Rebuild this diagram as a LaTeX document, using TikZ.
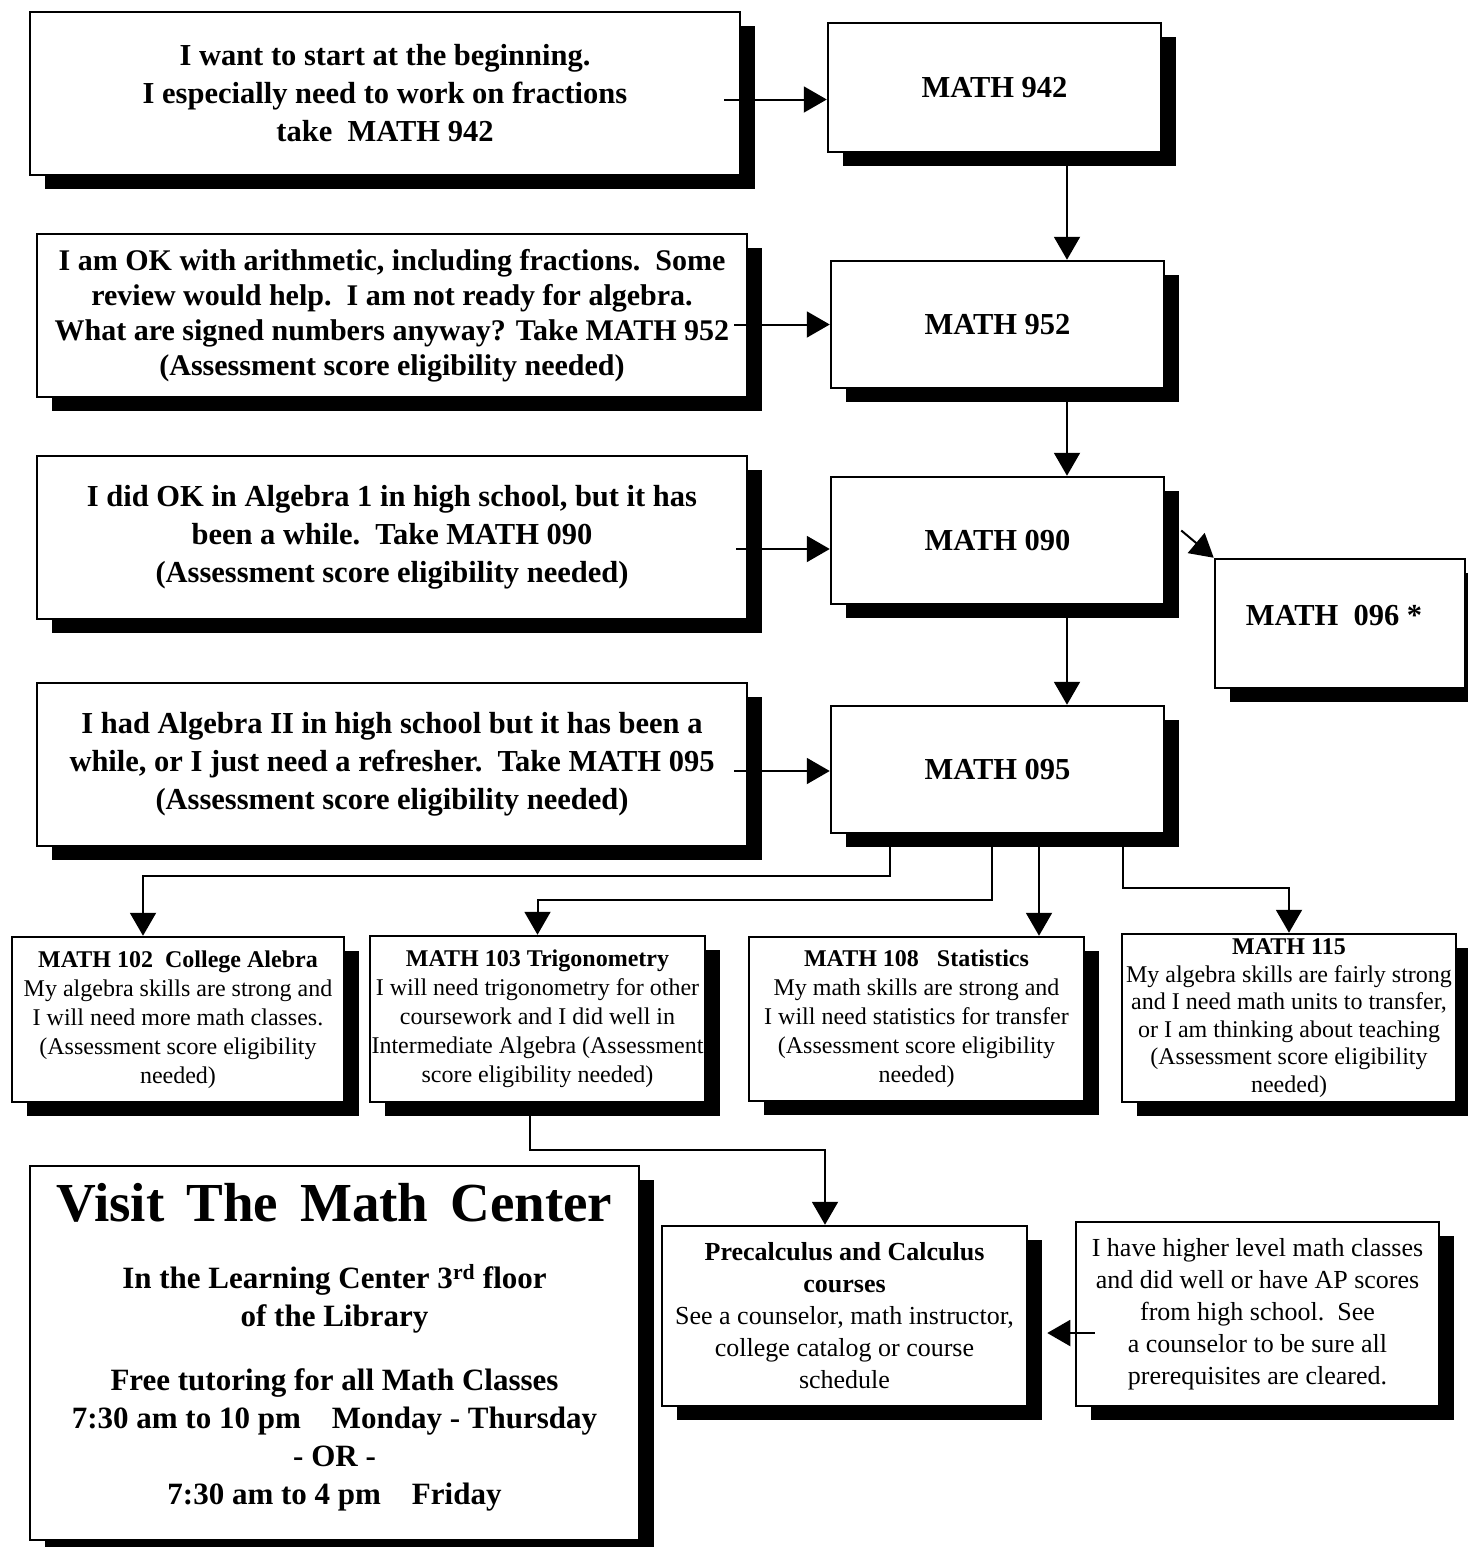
\documentclass[tikz,border=0pt]{standalone}
\usepackage{fontspec}
\setmainfont{Liberation Serif}
\usetikzlibrary{arrows.meta,shadows}

\tikzset{
  box/.style={draw, line width=2.5pt, fill=white, inner sep=0pt, align=center,
    drop shadow={shadow xshift=15pt, shadow yshift=-14pt, opacity=1, fill=black}},
  arr/.style={line width=2pt, -{Triangle[length=23pt,width=26pt]}},
  bigtxt/.style={font=\fontsize{30.5}{38}\selectfont\bfseries},
  midtxt/.style={font=\fontsize{30}{35}\selectfont\bfseries},
  smalltxt/.style={font=\fontsize{24}{29}\selectfont},
  plaintxt/.style={font=\fontsize{26}{32}\selectfont},
}

\begin{document}
\begin{tikzpicture}[x=1pt,y=-1pt]
\fill[white] (0,0) rectangle (1467,1547);
\useasboundingbox (0,0) rectangle (1467,1547);

% left column: where do I start
\node[box,bigtxt,minimum width=710,minimum height=163] (L1) at (385,93.5)
  {I want to start at the beginning.\\I especially need to work on fractions\\take\ \ MATH 942};
\node[box,midtxt,minimum width=710,minimum height=163] (L2) at (392,315.5)
  {I am OK with arithmetic, including fractions.\ \ Some\\review would help.\ \ I am not ready for algebra.\\What are signed numbers anyway? Take MATH 952\\(Assessment score eligibility needed)};
\node[box,bigtxt,minimum width=710,minimum height=163] (L3) at (392,537.5)
  {I did OK in Algebra 1 in high school, but it has\\been a while.\ \ Take MATH 090\\(Assessment score eligibility needed)};
\node[box,bigtxt,minimum width=710,minimum height=163] (L4) at (392,764.5)
  {I had Algebra II in high school but it has been a\\while, or I just need a refresher.\ \ Take MATH 095\\(Assessment score eligibility needed)};

% right column: the course chain
\node[box,bigtxt,minimum width=333,minimum height=129] (R1) at (994.5,87.5) {MATH 942};
\node[box,bigtxt,minimum width=333,minimum height=127] (R2) at (997.5,324.5) {MATH 952};
\node[box,bigtxt,minimum width=333,minimum height=127] (R3) at (997.5,540.5) {MATH 090};
\node[box,bigtxt,minimum width=333,minimum height=127] (R4) at (997.5,769.5) {MATH 095};
\node[box,bigtxt,text depth=16pt,minimum width=250,minimum height=129] (M96) at (1340,623.5) {MATH\ \ 096 *\hspace*{12pt}};

% transfer level courses
\node[box,smalltxt,minimum width=332,minimum height=165] (B1) at (178,1019.5)
  {\textbf{MATH 102\ \ College Alebra}\\My algebra skills are strong and\\I will need more math classes.\\(Assessment score eligibility\\needed)};
\node[box,smalltxt,minimum width=335,minimum height=166] (B2) at (537.5,1019)
  {\textbf{MATH 103\ Trigonometry}\\I will need trigonometry for other\\coursework and I did well in\\Intermediate Algebra (Assessment\\score eligibility needed)};
\node[box,smalltxt,minimum width=335,minimum height=164] (B3) at (916.5,1019)
  {\textbf{MATH 108\ \ \ Statistics}\\My math skills are strong and\\I will need statistics for transfer\\(Assessment score eligibility\\needed)};
\node[box,smalltxt,font=\fontsize{24}{27.5}\selectfont,minimum width=334,minimum height=168] (B4) at (1289,1018)
  {\textbf{MATH 115}\\My algebra skills are fairly strong\\and I need math units to transfer,\\or I am thinking about teaching\\(Assessment score eligibility\\needed)};

% bottom
\node[box,plaintxt,minimum width=365,minimum height=180] (P) at (844.5,1316)
  {\textbf{Precalculus and Calculus}\\\textbf{courses}\\See a counselor, math instructor,\\college catalog or course\\schedule};
\node[box,plaintxt,minimum width=363,minimum height=184] (H) at (1257.5,1314)
  {I have higher level math classes\\and did well or have AP scores\\from high school.\ \ See\\a counselor to be sure all\\prerequisites are cleared.};
\node[box,align=flush center,text width=600,minimum width=609,minimum height=374,font=\bfseries] (V) at (334.5,1353)
  {{\fontsize{55}{60}\selectfont\spaceskip=0.4em Visit The Math Center\par}
   \vspace{29pt}
   {\fontsize{31}{38}\selectfont\spaceskip=0pt In the Learning Center 3\textsuperscript{rd} floor\\of the Library\par}
   \vspace{26pt}
   {\fontsize{31}{38}\selectfont\spaceskip=0pt Free tutoring for all Math Classes\\7:30 am to 10 pm\quad Monday - Thursday\\- OR -\\7:30 am to 4 pm\quad Friday\par}
   \kern11pt};

% connectors
\coordinate (vx) at (1067,0);
\coordinate (k1) at (890,876);
\coordinate (k2) at (992,900);
\coordinate (k3) at (1039,900);
\coordinate (k4) at (1123,888);
\coordinate (k5) at (825,1150);

\draw[arr] ([xshift=-17pt,yshift=-6pt]L1.east) -- ([yshift=-12pt]R1.west);
\draw[arr] ([xshift=-14pt,yshift=-9pt]L2.east) -- (R2.west);
\draw[arr] ([xshift=-12pt,yshift=-11.5pt]L3.east) -- ([yshift=-8.5pt]R3.west);
\draw[arr] ([xshift=-14pt,yshift=-6.5pt]L4.east) -- ([yshift=-1.5pt]R4.west);

\draw[arr] (R1.south -| vx) -- (R2.north -| vx);
\draw[arr] (R2.south -| vx) -- (R3.north -| vx);
\draw[arr] (R3.south -| vx) -- (R4.north -| vx);
\draw[arr] ([xshift=16pt,yshift=10pt]R3.east) -- (M96.north west);

\draw[arr] (R4.south -| k1) -- (k1) -| ([xshift=-35pt]B1.north);
\draw[arr] (R4.south -| k2) -- (k2) -| (B2.north);
\draw[arr] (R4.south -| k3) -- (B3.north -| k3);
\draw[arr] (R4.south -| k4) -- (k4) -| (B4.north);

\draw[arr] ([xshift=-7.5pt]B2.south) |- (k5) -- (k5 |- P.north);
\draw[arr] ([xshift=20pt,yshift=-19pt]H.west) -- ([xshift=19pt,yshift=-17pt]P.east);
\end{tikzpicture}
\end{document}
